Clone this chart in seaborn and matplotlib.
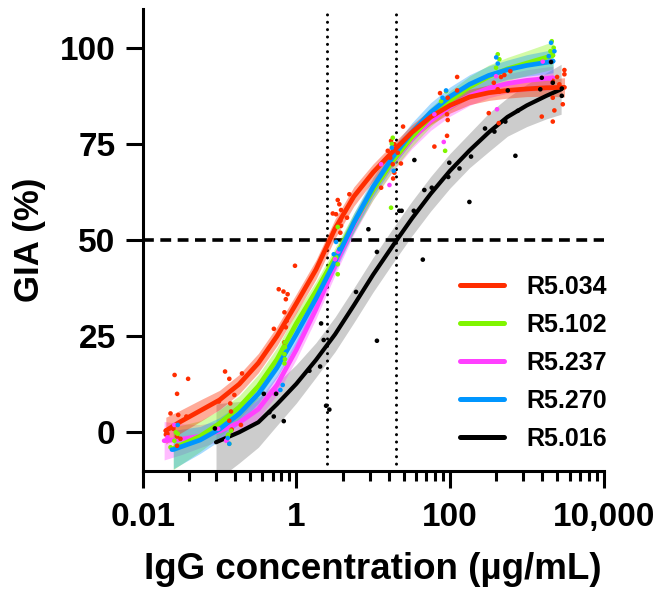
import matplotlib
matplotlib.use('Agg')
import matplotlib.pyplot as plt
import seaborn as sns
import pandas as pd
from matplotlib.lines import Line2D
from matplotlib.ticker import FixedLocator, FixedFormatter, NullFormatter

# fitted curves (conc in ug/mL, GIA in %, half width of the band)
red_fit_x = [0.02, 0.03, 0.056, 0.1, 0.18, 0.32, 0.56, 1, 1.8, 3.2, 5.6, 10, 18, 32, 56, 100, 180, 320, 560, 1000, 1800, 3100]
red_fit_y = [0.4, 2.6, 5.6, 8.4, 12.5, 18, 25, 33.5, 42.3, 53, 61.3, 67.6, 73, 78, 82, 85, 87.2, 88.3, 88.9, 89.3, 89.6, 89.7]
red_band = [3.5, 3, 2.8, 2.5, 2.5, 2.5, 2.5, 2.5, 2.5, 2.5, 2.5, 2.2, 2, 2, 2, 2, 2, 2, 2, 2, 2.2, 2.5]

green_fit_x = [0.025, 0.056, 0.1, 0.18, 0.32, 0.56, 1, 1.8, 3.2, 5.6, 10, 18, 32, 56, 100, 180, 320, 560, 1000, 1800, 2200]
green_fit_y = [-4.2, -1.0, 2.3, 6.5, 12, 19, 28.3, 36.7, 45.5, 54.5, 63, 70.5, 76.8, 82, 86.3, 89.8, 92.5, 94.5, 96, 97.5, 98]
green_band = [5.5, 4, 3.5, 3, 3, 3, 3, 2.5, 2.5, 2.5, 2.5, 2.5, 2.5, 2.5, 2.5, 2.8, 3, 3, 3.2, 3.5, 3.5]

blue_fit_x = [0.025, 0.056, 0.1, 0.18, 0.32, 0.56, 1, 1.8, 3.2, 5.6, 10, 18, 32, 56, 100, 180, 320, 560, 1000, 1800, 2200]
blue_fit_y = [-4.5, -2.0, 0.8, 4.8, 10, 16.8, 25.5, 34.8, 44.5, 54.5, 63.8, 71.6, 78, 83.2, 87.3, 90.5, 92.8, 94.3, 95.4, 96.2, 96.5]
blue_band = [5, 3.5, 3, 2.5, 2.5, 2.5, 2.5, 2.5, 2.5, 2.5, 2.5, 2.5, 2.5, 2.5, 2.5, 2.5, 2.5, 2.5, 2.8, 3, 3]

magenta_fit_x = [0.019, 0.032, 0.056, 0.1, 0.18, 0.32, 0.56, 1, 1.8, 3.2, 5.6, 10, 18, 32, 56, 100, 180, 320, 560, 1000, 1800, 2200]
magenta_fit_y = [-2.2, -1.8, -1.0, 0.3, 2.5, 6, 12.3, 21.5, 32, 43.5, 54, 63, 70.3, 76.3, 81, 84.7, 87.5, 89.5, 90.7, 91.5, 92, 92.2]
magenta_band = [5, 4, 3, 2.5, 2.5, 2.5, 2.5, 2.5, 2.5, 2.5, 2.5, 2.5, 2.5, 2.5, 2.5, 2.5, 2.5, 2.5, 2.5, 2.8, 3, 3]

black_fit_x = [0.09, 0.18, 0.32, 0.56, 1, 1.8, 3.2, 5.6, 10, 18, 32, 56, 100, 180, 320, 560, 1000, 1800, 2800]
black_fit_y = [-2.6, 0.0, 2.6, 7.3, 12.6, 18.8, 25.5, 33, 41, 48.5, 55.6, 62, 68, 73.3, 78, 82, 85, 87.5, 89.2]
black_band = [10, 8, 6.5, 5.5, 5, 4.5, 4.5, 4.5, 4.5, 4.5, 4.5, 4.5, 4.5, 4.5, 5, 5, 5.5, 6, 6.5]

# individual replicate points
red_pts_x = [0.026, 0.039, 0.028, 0.023, 0.029, 0.037, 0.020, 0.021, 0.025, 0.028, 0.031, 0.028, 0.020,
             0.118, 0.134, 0.196, 0.156, 0.138, 0.141, 0.134, 0.144, 0.19, 0.098,
             0.96, 0.59, 0.68, 0.77, 0.73, 0.70, 0.51, 0.73, 0.70, 0.75,
             3.46, 3.63, 3.82, 2.98, 3.29, 3.74, 4.57, 4.9, 3.82, 3.74,
             17.1, 15.5, 16.7, 18.9, 20.9, 18, 18.9, 18.2, 23, 12.7, 24.5,
             74.3, 124, 124, 93.5, 91.6, 93.5, 91.6, 62.7,
             320, 372, 419, 462, 511, 611, 432, 440,
             1567, 2181, 2287, 2181, 2944, 3090, 3090, 2655, 2483, 2181]
red_pts_y = [14.9, 13.9, 10, 4.9, 4.5, 4.1, 0.4, -0.4, 0.9, -1.1, -1.7, -3.5, -0.6,
             15.8, 13.9, 15.3, 9.7, 7.5, 5.4, 3.0, 0.7, 1.9, 8,
             43.3, 37.2, 36.6, 35.9, 34.6, 31.2, 26.9, 27.3, 23.4, 29,
             60.4, 59.3, 57.8, 56.9, 56.7, 55, 55.8, 61.9, 53.7, 51.9,
             75.8, 73.2, 71.4, 74.9, 72.7, 69.7, 67.5, 66, 69.9, 63.6, 79.5,
             88.2, 92.4, 88.9, 87, 82.7, 81.2, 77.1, 74.3,
             83, 90.9, 89.2, 92.4, 92.9, 93.9, 80.4, 88.6,
             82.1, 87, 83.7, 80.8, 85.3, 93.1, 94.2, 90.5, 92.4, 91.4]

green_pts_x = [0.0258, 0.0286, 0.027, 0.023, 0.134, 0.128, 0.13, 0.141,
               0.71, 0.71, 0.71, 0.70, 0.70,
               3.46, 3.46, 3.46, 3.3,
               17.1, 18, 17.5,
               86.5, 89, 76.6,
               419, 440, 398,
               2115, 2180, 2034, 2240]
green_pts_y = [-2.2, -0.4, 0, -3.9, -3.0, -0.9, -0.6, 0.4,
               23.4, 22.1, 19.0, 20.3, 17.9,
               43.7, 41.1, 53.4, 45.5,
               58.4, 76.6, 75,
               73.2, 88.7, 86.1,
               98.3, 97, 94.8,
               101.7, 98.3, 99.1, 100]

blue_pts_x = [0.0286, 0.024, 0.134, 0.128, 0.665, 0.62,
              3.29, 3.63, 3.07,
              18.5, 17.5,
              89, 80,
              419, 400,
              1930, 2290, 2070, 2200]
blue_pts_y = [1.9, -4.5, -3.0, -1.5, 12.3, 11,
              49.5, 47.6, 46.3,
              68, 74,
              88.9, 87,
              95.9, 97.5,
              97.8, 99.1, 101.3, 96.5]

magenta_pts_x = [0.0258, 0.021, 0.096, 0.125, 0.122, 0.52, 0.56,
                 3.19, 3.5,
                 12.7, 16.3,
                 83, 62.7,
                 410, 398,
                 1614, 2070, 2000]
magenta_pts_y = [1.9, -1.3, 0.9, -2, -2.2, 10, 10.6,
                 45, 47,
                 69.7, 64.3,
                 75.5, 82.7,
                 84, 92.6,
                 96.4, 96.4, 92]

black_pts_x = [0.087, 0.377, 0.545, 0.446, 0.508, 0.686,
               2.1, 2.27, 2.04, 1.48, 5.98, 2.69, 2.44,
               8.67, 11.2, 11.2, 23.5, 33.8, 34.4, 46.4, 58, 44.3, 21.9,
               98, 95, 133, 188, 179, 286, 379, 526, 566, 711, 764,
               1567, 1500, 2070, 2181, 2857, 2857]
black_pts_y = [1, 10, 10, 5.2, 4.1, 2.9,
               28.3, 24, 17.1, 16, 36.5, 5.9, 6.9,
               52.8, 46.9, 23.8, 57.6, 57.6, 70.8, 63, 63.6, 44.9, 57.6,
               70.1, 66.4, 68.6, 71.7, 59.9, 79, 78.2, 80.8, 88.9, 71.9, 83.6,
               92.2, 89.2, 96.3, 90.9, 87.5, 89.4]

legend_order = ['R5.034', 'R5.102', 'R5.237', 'R5.270', 'R5.016']
draw_order = ['R5.016', 'R5.237', 'R5.102', 'R5.270', 'R5.034']
colors = {'R5.034': '#FF2D00', 'R5.102': '#80F500', 'R5.237': '#FF40FF',
          'R5.270': '#0096FF', 'R5.016': '#000000'}
band_alpha = {'R5.034': 0.4, 'R5.102': 0.35, 'R5.237': 0.35, 'R5.270': 0.35, 'R5.016': 0.2}
ec50_lines = [2.5, 20]

fit_parts = {
    'R5.034': (red_fit_x, red_fit_y, red_band),
    'R5.102': (green_fit_x, green_fit_y, green_band),
    'R5.237': (magenta_fit_x, magenta_fit_y, magenta_band),
    'R5.270': (blue_fit_x, blue_fit_y, blue_band),
    'R5.016': (black_fit_x, black_fit_y, black_band),
}
pt_parts = {
    'R5.034': (red_pts_x, red_pts_y),
    'R5.102': (green_pts_x, green_pts_y),
    'R5.237': (magenta_pts_x, magenta_pts_y),
    'R5.270': (blue_pts_x, blue_pts_y),
    'R5.016': (black_pts_x, black_pts_y),
}

fits = pd.concat([pd.DataFrame({'conc': v[0], 'gia': v[1], 'band': v[2], 'antibody': k})
                  for k, v in fit_parts.items()], ignore_index=True)
pts = pd.concat([pd.DataFrame({'conc': v[0], 'gia': v[1], 'antibody': k})
                 for k, v in pt_parts.items()], ignore_index=True)

sns.set_theme(style='ticks')
plt.rcParams['font.family'] = ['Liberation Sans', 'DejaVu Sans']
plt.rcParams['font.weight'] = 'bold'
plt.rcParams['axes.labelweight'] = 'bold'

fig = plt.figure(figsize=(6.58, 5.96), dpi=100)
ax = fig.add_axes([0.2169, 0.2102, 0.7004, 0.7742])
ax.set_xscale('log')

# reference lines
ax.axhline(50, color='black', lw=2.6, ls=(0, (3, 1.8)), zorder=1)
for v in ec50_lines:
    ax.axvline(v, color='black', lw=2.2, ls=(0, (0.01, 2.4)), dash_capstyle='round', zorder=1)

# confidence bands
for ab in draw_order:
    d = fits[fits.antibody == ab]
    ax.fill_between(d.conc, d.gia - d.band, d.gia + d.band, color=colors[ab],
                    alpha=band_alpha[ab], lw=0, zorder=2)

# curves
for ab in draw_order:
    d = fits[fits.antibody == ab]
    sns.lineplot(data=d, x='conc', y='gia', color=colors[ab], lw=3.0 if ab == 'R5.016' else 3.4,
                 estimator=None, sort=True, ax=ax, zorder=3)

# points
sns.scatterplot(data=pts, x='conc', y='gia', hue='antibody', hue_order=draw_order,
                palette=colors, s=11, linewidth=0, legend=False, ax=ax, zorder=4)

ax.set_xlim(0.01, 10000)
ax.set_ylim(-10, 110)

ax.xaxis.set_major_locator(FixedLocator([0.01, 1, 100, 10000]))
ax.xaxis.set_major_formatter(FixedFormatter(['0.01', '1', '100', '10,000']))
minor = [b * k * k for b in [0.01, 1, 100] for k in range(2, 10)]
ax.xaxis.set_minor_locator(FixedLocator(minor))
ax.xaxis.set_minor_formatter(NullFormatter())
ax.set_yticks([0, 25, 50, 75, 100])

for s in ['top', 'right']:
    ax.spines[s].set_visible(False)
for s in ['left', 'bottom']:
    ax.spines[s].set_linewidth(2.2)
    ax.spines[s].set_color('black')

ax.tick_params(axis='both', which='major', length=12.5, width=2.2, direction='out',
               labelsize=24, color='black', labelcolor='black')
ax.tick_params(axis='x', which='minor', length=7, width=2.2, color='black')
ax.tick_params(axis='x', which='major', pad=10)
ax.tick_params(axis='y', which='major', pad=7)

ax.set_xlabel('IgG concentration (µg/mL)', fontsize=26.5, fontweight='bold', labelpad=14, color='black')
ax.set_ylabel('GIA (%)', fontsize=25, fontweight='bold', labelpad=10, color='black')

handles = [Line2D([0], [0], color=colors[ab], lw=3.6) for ab in legend_order]
ax.legend(handles, legend_order, loc='upper left', bbox_to_anchor=(0.688, 0.424),
          bbox_transform=ax.transAxes, frameon=False, handlelength=1.75,
          handletextpad=0.9, labelspacing=0.56, borderpad=0, borderaxespad=0,
          labelcolor='black', prop={'weight': 'bold', 'size': 18})

fig.savefig('out.png', dpi=100)
